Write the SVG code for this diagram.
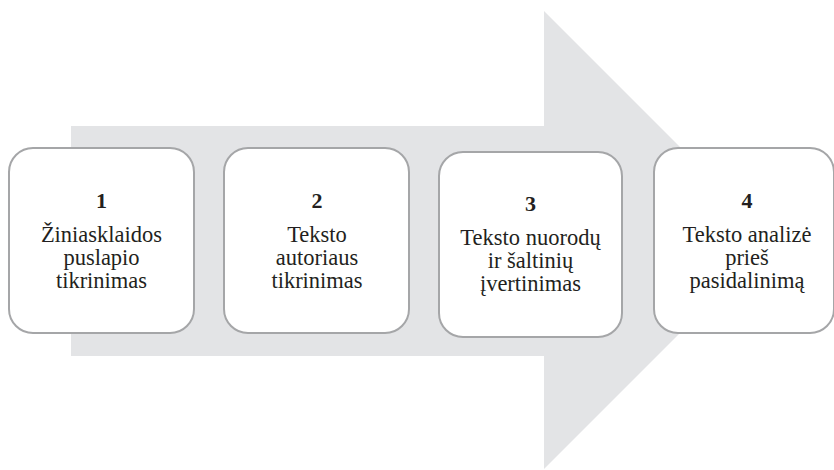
<svg xmlns="http://www.w3.org/2000/svg" width="834" height="470" viewBox="0 0 834 470">
<style>
.box{fill:#ffffff;stroke:#a5a6a8;stroke-width:2}
text{font-family:'Liberation Serif',Tinos,'Times New Roman','DejaVu Serif',serif;fill:#231f20;text-anchor:middle}
.num{font-weight:bold;font-size:22px}
.lbl{font-size:22.5px}
</style>
<rect width="834" height="470" fill="#ffffff"/>
<g id="connectors">
<polygon id="arrow" points="71,126 544,126 544,11 773,240 544,469 544,356 71,356" fill="#e3e4e6"/>
</g>
<g id="node1">
<rect class="box" x="9" y="148" width="185" height="185" rx="24" ry="24"/>
<text class="num" x="101.5" y="207.5" font-family="Liberation Serif, serif">1</text>
<text class="lbl" x="101.5" y="241.5" font-family="Liberation Serif, serif">Žiniasklaidos</text>
<text class="lbl" x="101.5" y="265" font-family="Liberation Serif, serif">puslapio</text>
<text class="lbl" x="101.5" y="287.5" font-family="Liberation Serif, serif">tikrinimas</text>
</g>
<g id="node2">
<rect class="box" x="224" y="148" width="185" height="185" rx="24" ry="24"/>
<text class="num" x="317" y="207.5" font-family="Liberation Serif, serif">2</text>
<text class="lbl" x="317" y="241.5" font-family="Liberation Serif, serif">Teksto</text>
<text class="lbl" x="317" y="265" font-family="Liberation Serif, serif">autoriaus</text>
<text class="lbl" x="317" y="287.5" font-family="Liberation Serif, serif">tikrinimas</text>
</g>
<g id="node3">
<rect class="box" x="439" y="152" width="183" height="185" rx="24" ry="24"/>
<text class="num" x="530.5" y="211" font-family="Liberation Serif, serif">3</text>
<text class="lbl" x="530.5" y="244.5" font-family="Liberation Serif, serif">Teksto nuorodų</text>
<text class="lbl" x="530.5" y="268" font-family="Liberation Serif, serif">ir šaltinių</text>
<text class="lbl" x="530.5" y="291" font-family="Liberation Serif, serif">įvertinimas</text>
</g>
<g id="node4">
<rect class="box" x="654" y="148" width="180" height="185" rx="24" ry="24"/>
<text class="num" x="747" y="207.5" font-family="Liberation Serif, serif">4</text>
<text class="lbl" x="747" y="241.5" font-family="Liberation Serif, serif">Teksto analizė</text>
<text class="lbl" x="747" y="265" font-family="Liberation Serif, serif">prieš</text>
<text class="lbl" x="747" y="288" font-family="Liberation Serif, serif">pasidalinimą</text>
</g>
</svg>
